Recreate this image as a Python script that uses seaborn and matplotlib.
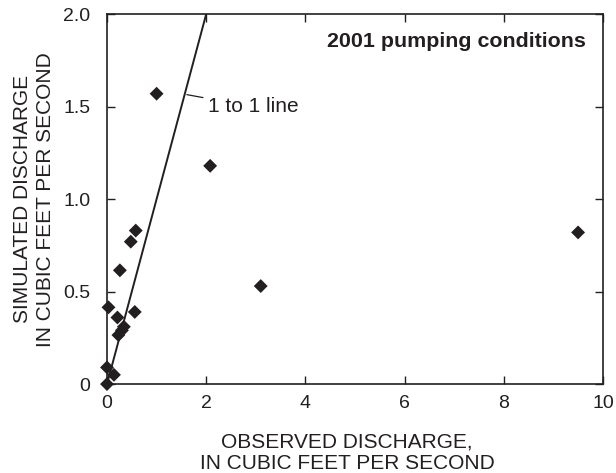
import numpy as np
import pandas as pd
import matplotlib
matplotlib.use('Agg')
import matplotlib.pyplot as plt
import seaborn as sns

# observed vs simulated discharge, cubic feet per second
observed = [0.0, 0.0, 0.14, 0.23, 0.30, 0.34, 0.03, 0.21, 0.56, 0.26, 0.48, 0.58, 1.0, 2.08, 3.10, 9.50]
simulated = [0.0, 0.09, 0.05, 0.265, 0.29, 0.31, 0.415, 0.36, 0.39, 0.615, 0.77, 0.83, 1.57, 1.18, 0.53, 0.82]

# 1 to 1 line
one_x = [0, 2]
one_y = [0, 2]

df = pd.DataFrame({'observed': observed, 'simulated': simulated})
line_df = pd.DataFrame({'x': one_x, 'y': one_y})

ink = '#231f20'

sns.set_style('ticks')
plt.rcParams['font.family'] = ['Liberation Sans', 'DejaVu Sans']

fig = plt.figure(figsize=(6.16, 4.73), dpi=100)
ax = fig.add_axes([0.1737, 0.188, 0.805, 0.782])

sns.lineplot(x='x', y='y', data=line_df, color=ink, linewidth=1.4, ax=ax)
sns.scatterplot(x='observed', y='simulated', data=df, marker='D', color=ink,
                s=50, edgecolor='none', ax=ax, zorder=3, clip_on=False)

ax.set_xlim(0, 10)
ax.set_ylim(0, 2.0)
ax.set_xticks([0, 2, 4, 6, 8, 10])
ax.set_xticklabels(['0', '2', '4', '6', '8', '10'])
ax.set_yticks([0, 0.5, 1.0, 1.5, 2.0])
ax.set_yticklabels(['0', '0.5', '1.0', '1.5', '2.0'])
ax.tick_params(direction='in', length=6, width=1, top=True, right=True,
               labelsize=14, colors=ink)
ax.tick_params(axis='x', pad=8)
ax.tick_params(axis='y', pad=12)
for sp in ax.spines.values():
    sp.set_linewidth(1.2)
    sp.set_color(ink)

ax.set_xlabel('OBSERVED DISCHARGE,\nIN CUBIC FEET PER SECOND', fontsize=15,
              color=ink, linespacing=1.2)
ax.set_ylabel('SIMULATED DISCHARGE\nIN CUBIC FEET PER SECOND', fontsize=15,
              color=ink, linespacing=1.25)
ax.xaxis.set_label_coords(0.484, -0.13)
ax.yaxis.set_label_coords(-0.105, 0.5)

ax.text(9.65, 1.855, '2001 pumping conditions', ha='right', va='center',
        fontsize=15.4, fontweight='bold', color=ink)
ax.annotate('1 to 1 line', xy=(1.61, 1.565), xytext=(2.03, 1.50),
            ha='left', va='center', fontsize=15, color=ink,
            arrowprops=dict(arrowstyle='-', color=ink, lw=0.9,
                            shrinkA=1, shrinkB=0))

fig.savefig('out.png', dpi=100)
